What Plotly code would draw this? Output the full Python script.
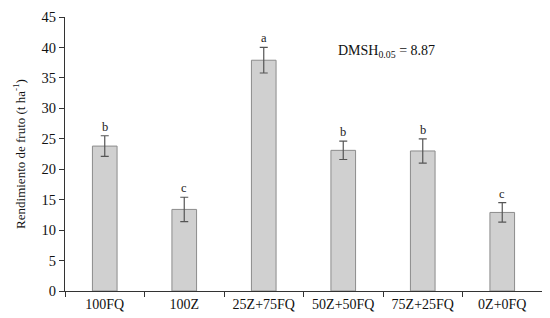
import plotly.graph_objects as go

categories = ["100FQ", "100Z", "25Z+75FQ", "50Z+50FQ", "75Z+25FQ", "0Z+0FQ"]
values = [23.8, 13.4, 37.9, 23.1, 23.0, 12.9]
errors = [1.7, 2.0, 2.1, 1.5, 2.0, 1.6]
letters = ["b", "c", "a", "b", "b", "c"]
y_ticks = [0, 5, 10, 15, 20, 25, 30, 35, 40, 45]

FONT = "Liberation Serif, Times New Roman, serif"

fig = go.Figure()
fig.add_trace(go.Bar(
    x=categories, y=values, width=0.31,
    marker=dict(color="#d0d0d0", line=dict(color="#8c8c8c", width=1)),
    error_y=dict(type="data", array=errors, visible=True, color="#555555",
                 thickness=1.2, width=4),
    showlegend=False, hoverinfo="skip",
))

for c, v, e, l in zip(categories, values, errors, letters):
    fig.add_annotation(x=c, y=v + e, text=l, showarrow=False, yanchor="bottom",
                       yshift=0, font=dict(family=FONT, size=12.5, color="#222"))

fig.add_annotation(xref="paper", yref="y", x=0.78, y=39.3,
                   text="DMSH<sub>0.05</sub> = 8.87", showarrow=False,
                   font=dict(family=FONT, size=14, color="#111"))

# page body has an 8px margin, so the figure is offset by (8, 8)
fig.update_layout(
    width=550, height=318,
    margin=dict(l=57, r=16, t=9, b=35),
    paper_bgcolor="white", plot_bgcolor="white",
    font=dict(family=FONT, size=14, color="#111"),
    bargap=0.69,
)
fig.update_xaxes(showline=True, linecolor="#333", linewidth=1, automargin=False,
                 ticks="outside", tickson="boundaries", ticklen=5,
                 tickcolor="#333", tickfont=dict(size=14), showgrid=False)
fig.update_yaxes(range=[0, 45], tickvals=y_ticks, showline=True, automargin=False,
                 linecolor="#333", linewidth=1, ticks="outside", ticklen=5,
                 tickcolor="#333", showgrid=False, zeroline=False,
                 tickfont=dict(size=14.5),
                 title=dict(text="Rendimiento de fruto (t ha<sup>-1</sup>)",
                            font=dict(size=13), standoff=13))

fig.write_html("out.html")
